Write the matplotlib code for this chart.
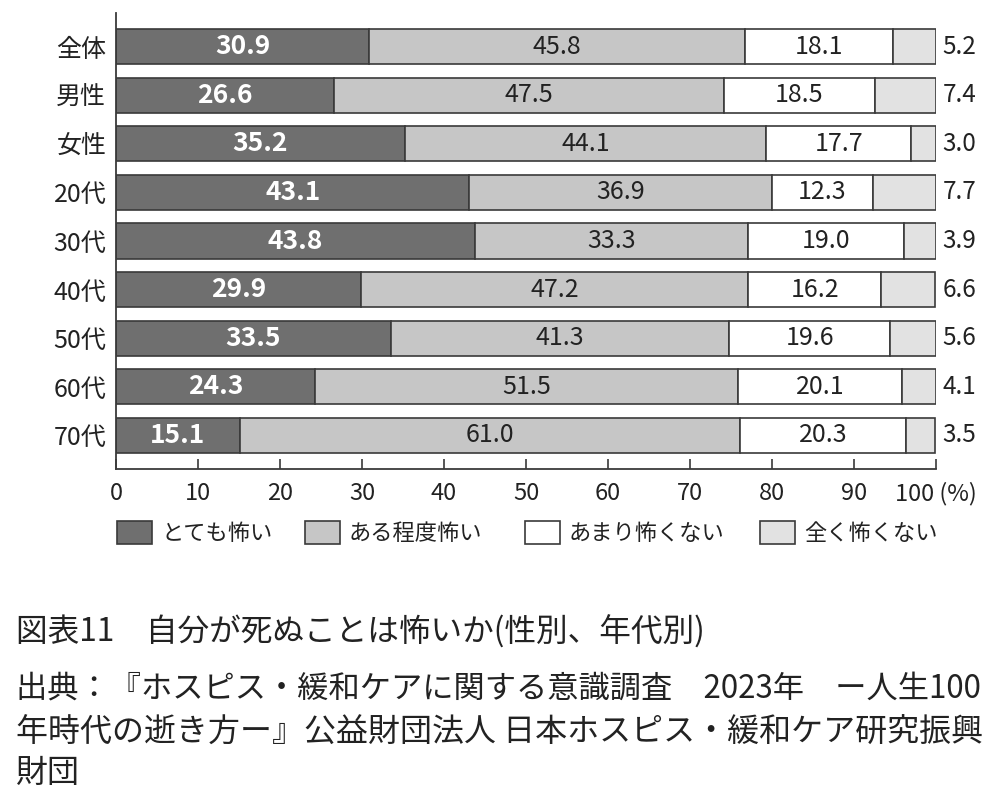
import matplotlib
matplotlib.use("Agg")
import matplotlib.pyplot as plt
from matplotlib.patches import Rectangle
import numpy as np

plt.rcParams['font.family'] = ['Noto Sans CJK JP', 'DejaVu Sans']

categories = ["全体", "男性", "女性", "20代", "30代", "40代", "50代", "60代", "70代"]
series_names = ["とても怖い", "ある程度怖い", "あまり怖くない", "全く怖くない"]
very_afraid = [30.9, 26.6, 35.2, 43.1, 43.8, 29.9, 33.5, 24.3, 15.1]
somewhat_afraid = [45.8, 47.5, 44.1, 36.9, 33.3, 47.2, 41.3, 51.5, 61.0]
not_very_afraid = [18.1, 18.5, 17.7, 12.3, 19.0, 16.2, 19.6, 20.1, 20.3]
not_afraid = [5.2, 7.4, 3.0, 7.7, 3.9, 6.6, 5.6, 4.1, 3.5]
x_ticks = [0, 10, 20, 30, 40, 50, 60, 70, 80, 90, 100]
x_tick_labels = ["0", "10", "20", "30", "40", "50", "60", "70", "80", "90", "100 (%)"]

title_line = "図表11\u3000自分が死ぬことは怖いか(性別、年代別)"
source_lines = [
    "出典：『ホスピス・緩和ケアに関する意識調査\u30002023年\u3000ー人生100",
    "年時代の逝き方ー』公益財団法人 日本ホスピス・緩和ケア研究振興",
    "財団",
]

colors = ["#6f6f6f", "#c6c6c6", "#ffffff", "#e2e2e2"]
edge = "#3a3a3a"
W, H = 1000, 800

fig = plt.figure(figsize=(10, 8), dpi=100)
ax = fig.add_axes([116 / W, 1 - 469 / H, 820 / W, (469 - 13) / H])

series = [very_afraid, somewhat_afraid, not_very_afraid, not_afraid]
y = np.arange(len(categories))
left = np.zeros(len(categories))
for k, vals in enumerate(series):
    vals = np.array(vals)
    ax.barh(y, vals, left=left, height=0.72, color=colors[k], edgecolor=edge,
            linewidth=1.2, zorder=2)
    for i, v in enumerate(vals):
        if k == 3:
            ax.text(100.8, y[i], f"{v:.1f}", ha="left", va="center",
                    fontsize=17.5, color="#222222", clip_on=False)
        elif k == 0:
            ax.text(left[i] + v / 2, y[i], f"{v:.1f}", ha="center", va="center",
                    fontsize=19, color="white", fontweight="bold")
        else:
            ax.text(left[i] + v / 2, y[i], f"{v:.1f}", ha="center", va="center",
                    fontsize=18, color="#222222")
    left += vals

ax.set_xlim(0, 100)
ax.set_ylim(len(categories) - 1 + 0.69, -0.69)
ax.set_yticks(y)
ax.set_yticklabels(categories, fontsize=18, color="#222222")
ax.tick_params(axis="y", length=0, pad=7)
ax.set_xticks(x_ticks)
ax.set_xticklabels(x_tick_labels, fontsize=17, color="#222222")
ax.tick_params(axis="x", direction="in", length=7, width=1.2, color=edge, pad=9)
for s in ["top", "right"]:
    ax.spines[s].set_visible(False)
for s in ["left", "bottom"]:
    ax.spines[s].set_linewidth(1.3)
    ax.spines[s].set_color(edge)

# legend
box_x = [117, 305, 525, 760]
for k, name in enumerate(series_names):
    fig.add_artist(Rectangle((box_x[k] / W, 1 - 544 / H), 35 / W, 23 / H,
                             transform=fig.transFigure, facecolor=colors[k],
                             edgecolor=edge, linewidth=1.2))
    fig.text((box_x[k] + 44) / W, 1 - 533 / H, name, ha="left", va="center",
             fontsize=16, color="#222222")

fig.text(16 / W, 1 - 632 / H, title_line, ha="left", va="center",
         fontsize=22.8, color="#222222")
for line, py, fs in zip(source_lines, [689, 733, 773], [22.5, 23, 23]):
    fig.text(16 / W, 1 - py / H, line, ha="left", va="center",
             fontsize=fs, color="#222222")

fig.savefig("out.png", dpi=100, facecolor="white")
